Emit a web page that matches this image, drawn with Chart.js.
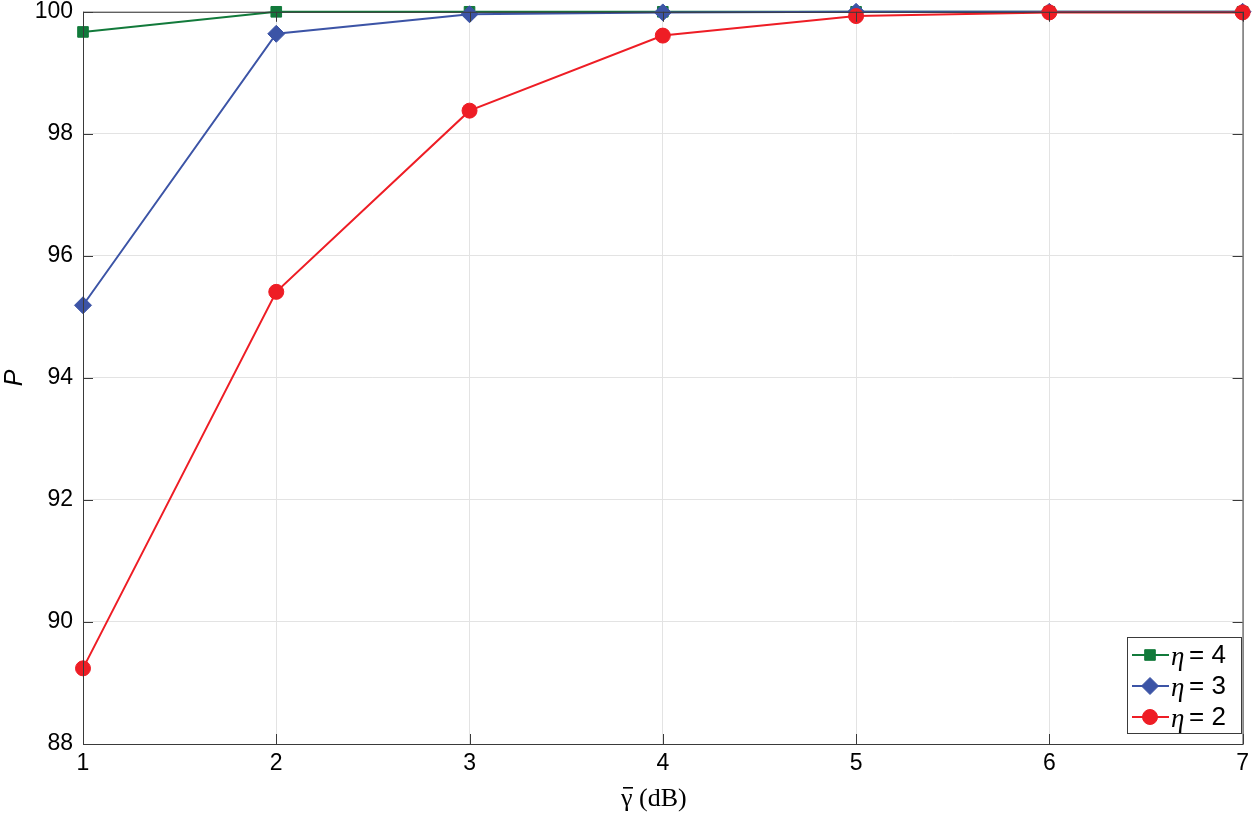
<!DOCTYPE html>
<html>
<head>
<meta charset="utf-8">
<script src="https://cdn.jsdelivr.net/npm/chart.js@4"></script>
<style>
  html, body { margin: 0; padding: 0; background: #fff; overflow: hidden; }
  #wrap { width: 1255px; height: 817px; overflow: hidden; position: relative; }
  /* canvas is 12px taller and shifted up so the plot frame starts near the top edge */
  #myChart { position: absolute; left: 0; top: -12px; }
</style>
</head>
<body>
<div id="wrap"><canvas id="myChart" width="1255" height="829"></canvas></div>
<script>
const gammaDb = [1, 2, 3, 4, 5, 6, 7];
const eta4 = [99.67, 100, 100, 100, 100, 100, 100];
const eta3 = [95.19, 99.64, 99.96, 99.99, 100, 100, 100];
const eta2 = [89.24, 95.41, 98.38, 99.61, 99.93, 99.99, 99.99];
const yTicks = [88, 90, 92, 94, 96, 98, 100];
const legendLabels = ['4', '3', '2'];

const axisColor = '#3a3a3a';
const tickFont = { family: 'Liberation Sans, Arial, sans-serif', size: 23 };

function pts(ys) {
    return gammaDb.map((x, i) => ({ x: x, y: ys[i] }));
}

// frame + inward tick marks, legend and x title drawn by hand
const framePlugin = {
    id: 'frame',
    afterDatasetsDraw(chart) {
        const { ctx, chartArea: a, scales } = chart;
        ctx.save();
        ctx.strokeStyle = axisColor;
        ctx.lineWidth = 1;
        ctx.strokeRect(a.left + 0.5, a.top + 0.5, a.right - a.left, a.bottom - a.top);
        ctx.beginPath();
        gammaDb.forEach(v => {
            const px = Math.round(scales.x.getPixelForValue(v)) + 0.5;
            ctx.moveTo(px, a.bottom); ctx.lineTo(px, a.bottom - 10);
            ctx.moveTo(px, a.top); ctx.lineTo(px, a.top + 10);
        });
        yTicks.forEach(v => {
            const py = Math.round(scales.y.getPixelForValue(v)) + 0.5;
            ctx.moveTo(a.left, py); ctx.lineTo(a.left + 10, py);
            ctx.moveTo(a.right, py); ctx.lineTo(a.right - 10, py);
        });
        ctx.stroke();
        ctx.restore();
    },
    afterDraw(chart) {
        const { ctx } = chart;
        const off = 12; // canvas shift
        const bx = 1127, by = 637 + off, bw = 114, bh = 96;
        ctx.save();
        ctx.fillStyle = '#fff';
        ctx.fillRect(bx, by, bw, bh);
        ctx.strokeStyle = axisColor;
        ctx.lineWidth = 1;
        ctx.strokeRect(bx + 0.5, by + 0.5, bw, bh);
        [0, 1, 2].forEach(k => {
            const ds = chart.data.datasets[k];
            const cy = by + 18 + k * 31;
            ctx.strokeStyle = ds.borderColor;
            ctx.lineWidth = 2;
            ctx.beginPath();
            ctx.moveTo(bx + 5, cy); ctx.lineTo(bx + 42, cy);
            ctx.stroke();
            ctx.fillStyle = ds.backgroundColor;
            ctx.strokeStyle = ds.borderColor;
            ctx.lineWidth = 1;
            Chart.helpers.drawPoint(ctx, {
                pointStyle: ds.pointStyle, radius: ds.pointRadius, borderWidth: 1
            }, bx + 23, cy);
            ctx.fillStyle = '#000';
            ctx.textBaseline = 'middle';
            ctx.font = 'italic 27px "Liberation Serif", serif';
            ctx.fillText('\u03b7', bx + 44, cy + 3);
            ctx.font = '26px "Liberation Sans", Arial, sans-serif';
            ctx.fillText('= ' + legendLabels[k], bx + 62, cy + 1);
        });

        // x axis title: gamma with a bar, then (dB)
        ctx.fillStyle = '#000';
        ctx.textBaseline = 'alphabetic';
        ctx.font = '26px "Liberation Serif", serif';
        ctx.fillText('\u03b3', 621, 806 + off);
        ctx.fillRect(623, 787 + off, 10, 1.6);
        ctx.fillText('(dB)', 639, 806 + off);
        ctx.restore();
    }
};

const ctx = document.getElementById('myChart');

new Chart(ctx, {
    type: 'line',
    data: {
        datasets: [
            {
                label: 'eta = 4',
                data: pts(eta4),
                borderColor: '#127a3b',
                backgroundColor: '#127a3b',
                pointStyle: 'rect',
                pointRadius: 7.5,
                borderWidth: 2,
                pointBorderWidth: 1,
                order: 3,
                clip: false
            },
            {
                label: 'eta = 3',
                data: pts(eta3),
                borderColor: '#3c54a6',
                backgroundColor: '#3c54a6',
                pointStyle: 'rectRot',
                pointRadius: 8.5,
                borderWidth: 2,
                pointBorderWidth: 1,
                order: 2,
                clip: false
            },
            {
                label: 'eta = 2',
                data: pts(eta2),
                borderColor: '#ee1d25',
                backgroundColor: '#ee1d25',
                pointStyle: 'circle',
                pointRadius: 7.5,
                borderWidth: 2,
                pointBorderWidth: 1,
                order: 1,
                clip: false
            }
        ]
    },
    options: {
        responsive: false,
        animation: false,
        layout: { padding: { top: 0, right: 11, left: 0, bottom: 0 } },
        plugins: {
            legend: { display: false },
            tooltip: { enabled: false }
        },
        scales: {
            x: {
                type: 'linear',
                min: 1,
                max: 7,
                afterBuildTicks: s => { s.ticks = gammaDb.map(v => ({ value: v })); },
                grid: { color: '#e3e3e3', drawTicks: false },
                border: { display: false },
                ticks: { font: tickFont, color: '#000', padding: 6 },
                afterFit: s => { s.height = 73; }
            },
            y: {
                min: 88,
                max: 100,
                afterBuildTicks: s => { s.ticks = yTicks.map(v => ({ value: v })); },
                grid: { color: '#e3e3e3', drawTicks: false },
                border: { display: false },
                ticks: { font: tickFont, color: '#000', padding: 10 },
                title: {
                    display: true,
                    text: 'P',
                    font: { family: 'Liberation Sans, Arial, sans-serif', size: 25, style: 'italic' },
                    color: '#000',
                    padding: { top: 0, bottom: 0 }
                },
                afterFit: s => { s.width = 83; }
            }
        }
    },
    plugins: [framePlugin]
});
</script>
</body>
</html>
